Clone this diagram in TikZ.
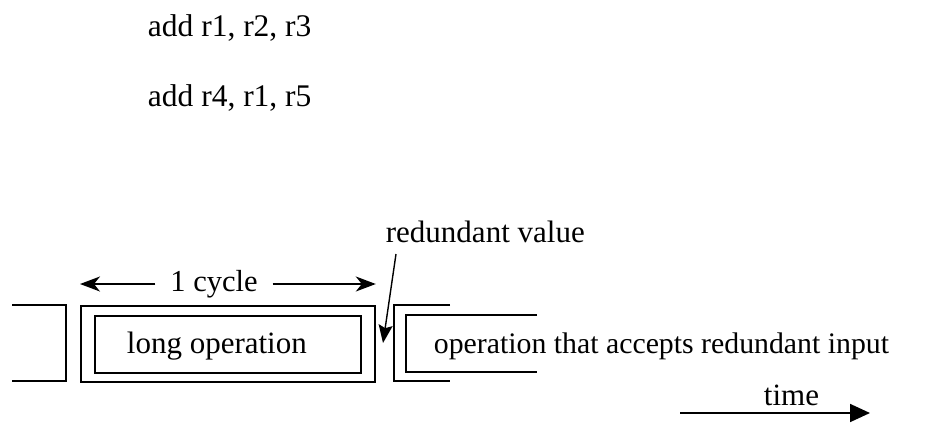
\documentclass[tikz,border=0pt]{standalone}
\usepackage{fontspec}
\setmainfont{Liberation Serif}
\usetikzlibrary{arrows.meta}
\begin{document}
\begin{tikzpicture}[x=1pt,y=-1pt,
  line width=1.8pt,
  txt/.style={font=\fontsize{#1}{#1}\selectfont, inner sep=0pt, anchor=base west},
  txt/.default=30.5,
  box/.style={draw, rectangle, inner sep=0pt, anchor=north west},
  cyclearrow/.style={-{Stealth[length=20pt,width=15pt,inset=6pt]}},
  pointer/.style={line width=1.4pt,-{Stealth[length=18pt,width=14pt,inset=3pt]}},
  timearrow/.style={-{Triangle[length=20pt,width=18pt]}}]
\useasboundingbox (0,0) rectangle (932,424);

% instruction listing
\node[txt=31.5] (i1) at (147,36) {add r1, r2, r3};
\node[txt=31.5] (i2) at (147,106) {add r4, r1, r5};

% previous cycle (cut off on the left)
\draw (12,305) -- (66,305) -- (66,381) -- (12,381);

% the long operation, one cycle wide
\node[box, minimum width=294pt, minimum height=76pt] (outer) at (80,305) {};
\node[box, minimum width=266pt, minimum height=57pt] (inner) at (94,315) {};
\node[txt=31] (longop) at (126,353) {long operation};

% next cycle (cut off on the right)
\draw (450,305) -- (394,305) -- (394,381) -- (450,381);
\draw (537,315) -- (406,315) -- (406,372) -- (537,372);
\node[txt=29.8] (nextop) at (433,353) {operation that accepts redundant input};

% cycle width marker
\node[font=\fontsize{30.5}{30.5}\selectfont, inner ysep=0pt, inner xsep=14pt] (cyc) at (214,284) {1 cycle};
\draw[cyclearrow] (cyc.west) -- (cyc.west -| outer.west);
\draw[cyclearrow] (cyc.east) -- (cyc.east -| outer.east);

% redundant value pointer
\node[txt=31] (rv) at (385,242) {redundant value};
\coordinate (rvfrom) at (396,254);
\coordinate (rvtip) at (383,343);
\draw[pointer] (rvfrom) -- (rvtip);

% time axis
\node[txt=31] (time) at (763,405) {time};
\coordinate (t0) at (680,413);
\coordinate (t1) at (870,413);
\draw[timearrow] (t0) -- (t1);
\end{tikzpicture}
\end{document}
